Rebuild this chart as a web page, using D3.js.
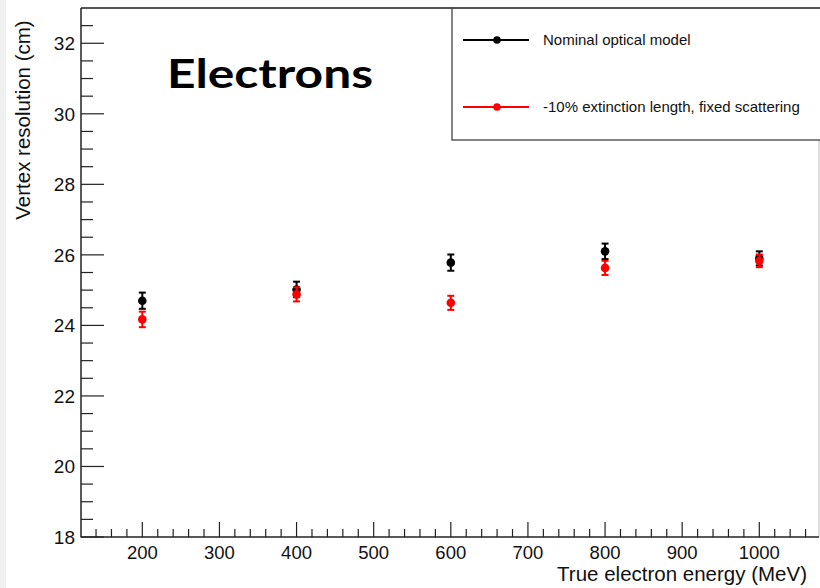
<!DOCTYPE html>
<html><head><meta charset="utf-8">
<script src="https://cdn.jsdelivr.net/npm/d3@7"></script>
<style>
html,body{margin:0;padding:0;background:#fff;}
svg{display:block;}
</style></head>
<body>
<svg id="chart" width="820" height="588"></svg>
<script>
const energies = [200, 400, 600, 800, 1000];
const nominalValues = [24.7, 25.02, 25.78, 26.1, 25.9];
const nominalErrors = [0.23, 0.22, 0.23, 0.22, 0.2];
const modifiedValues = [24.17, 24.88, 24.64, 25.63, 25.83];
const modifiedErrors = [0.22, 0.2, 0.2, 0.2, 0.18];
const seriesNames = ["Nominal optical model", "-10% extinction length, fixed scattering"];
const xTicks = [200, 300, 400, 500, 600, 700, 800, 900, 1000];
const yTicks = [18, 20, 22, 24, 26, 28, 30, 32];

const svg = d3.select("#chart");
const L = 81, R = 819, T = 8, B = 537;
const x = d3.scaleLinear().domain([120.5, 1077.4]).range([L, R]);
const y = d3.scaleLinear().domain([18, 33]).range([B, T]);
const font = "'Liberation Sans', Arial, Helvetica, sans-serif";

// left gray strip
svg.append("rect").attr("x",0).attr("y",0).attr("width",6).attr("height",588).attr("fill","#efefef");

// frame
svg.append("line").attr("x1",L).attr("x2",820).attr("y1",T).attr("y2",T).attr("stroke","#555").attr("stroke-width",2);
svg.append("line").attr("x1",R).attr("x2",R).attr("y1",T).attr("y2",B).attr("stroke","#bbb").attr("stroke-width",1);
svg.append("line").attr("x1",L).attr("x2",L).attr("y1",T).attr("y2",B+0.5).attr("stroke","#222").attr("stroke-width",1.5);
svg.append("line").attr("x1",L).attr("x2",R).attr("y1",B).attr("y2",B).attr("stroke","#222").attr("stroke-width",1.5);

// x ticks
const xMinor = d3.range(140, 1077, 20).filter(v => v % 100 !== 0);
svg.selectAll(".xmin").data(xMinor).enter().append("line")
  .attr("x1",d=>x(d)).attr("x2",d=>x(d)).attr("y1",B).attr("y2",B-8)
  .attr("stroke","#222").attr("stroke-width",1.2);
svg.selectAll(".xmaj").data(xTicks).enter().append("line")
  .attr("x1",d=>x(d)).attr("x2",d=>x(d)).attr("y1",B).attr("y2",B-15)
  .attr("stroke","#222").attr("stroke-width",1.2);
svg.selectAll(".xlab").data(xTicks).enter().append("text")
  .attr("x",d=>x(d)).attr("y",558.5).attr("text-anchor","middle")
  .attr("font-family",font).attr("font-size",18.5).attr("fill","#111").text(d=>d);

// y ticks
const yMinor = d3.range(18.5, 33, 0.5).filter(v => v % 2 !== 0);
svg.selectAll(".ymin").data(yMinor).enter().append("line")
  .attr("x1",L).attr("x2",L+12).attr("y1",d=>y(d)).attr("y2",d=>y(d))
  .attr("stroke","#222").attr("stroke-width",1.2);
svg.selectAll(".ymaj").data(yTicks).enter().append("line")
  .attr("x1",L).attr("x2",L+23).attr("y1",d=>y(d)).attr("y2",d=>y(d))
  .attr("stroke","#222").attr("stroke-width",1.2);
svg.selectAll(".ylab").data(yTicks).enter().append("text")
  .attr("x",75).attr("y",d=>y(d)+7).attr("text-anchor","end")
  .attr("font-family",font).attr("font-size",19).attr("fill","#111").text(d=>d);

// axis titles
svg.append("text").attr("x",807).attr("y",581).attr("text-anchor","end")
  .attr("font-family",font).attr("font-size",20.5).attr("fill","#111").text("True electron energy (MeV)");
svg.append("text").attr("transform","translate(30,120) rotate(-90)").attr("text-anchor","middle")
  .attr("font-family",font).attr("font-size",20.5).attr("fill","#111").text("Vertex resolution (cm)");

// data
function drawSeries(vals, errs, color){
  const g = svg.append("g");
  energies.forEach((e,i)=>{
    const cx = x(e), v = vals[i], er = errs[i];
    g.append("line").attr("x1",cx).attr("x2",cx).attr("y1",y(v+er)).attr("y2",y(v-er)).attr("stroke",color).attr("stroke-width",2);
    g.append("line").attr("x1",cx-3.5).attr("x2",cx+3.5).attr("y1",y(v+er)).attr("y2",y(v+er)).attr("stroke",color).attr("stroke-width",2);
    g.append("line").attr("x1",cx-3.5).attr("x2",cx+3.5).attr("y1",y(v-er)).attr("y2",y(v-er)).attr("stroke",color).attr("stroke-width",2);
    g.append("circle").attr("cx",cx).attr("cy",y(v)).attr("r",4.3).attr("fill",color);
  });
}
drawSeries(nominalValues, nominalErrors, "#000");
drawSeries(modifiedValues, modifiedErrors, "#ff0000");

// legend
svg.append("rect").attr("x",452).attr("y",8).attr("width",380).attr("height",132)
  .attr("fill","#fff").attr("stroke","#333").attr("stroke-width",1.2);
svg.append("line").attr("x1",452).attr("x2",820).attr("y1",T).attr("y2",T).attr("stroke","#555").attr("stroke-width",2);
const legColors = ["#000","#ff0000"];
const legY = [40, 107];
seriesNames.forEach((n,i)=>{
  svg.append("line").attr("x1",463).attr("x2",529).attr("y1",legY[i]).attr("y2",legY[i]).attr("stroke",legColors[i]).attr("stroke-width",2);
  svg.append("circle").attr("cx",497).attr("cy",legY[i]).attr("r",3.8).attr("fill",legColors[i]);
  svg.append("text").attr("x",543).attr("y",legY[i]+5).attr("font-family",font).attr("font-size",15).attr("fill","#111").text(n);
});

// title
svg.append("text").attr("x",167).attr("y",88).attr("font-family","Lato, 'Open Sans', sans-serif")
  .attr("font-weight","bold").attr("font-size",41).attr("fill","#000")
  .attr("textLength",206).attr("lengthAdjust","spacingAndGlyphs").text("Electrons");
</script>
</body></html>
